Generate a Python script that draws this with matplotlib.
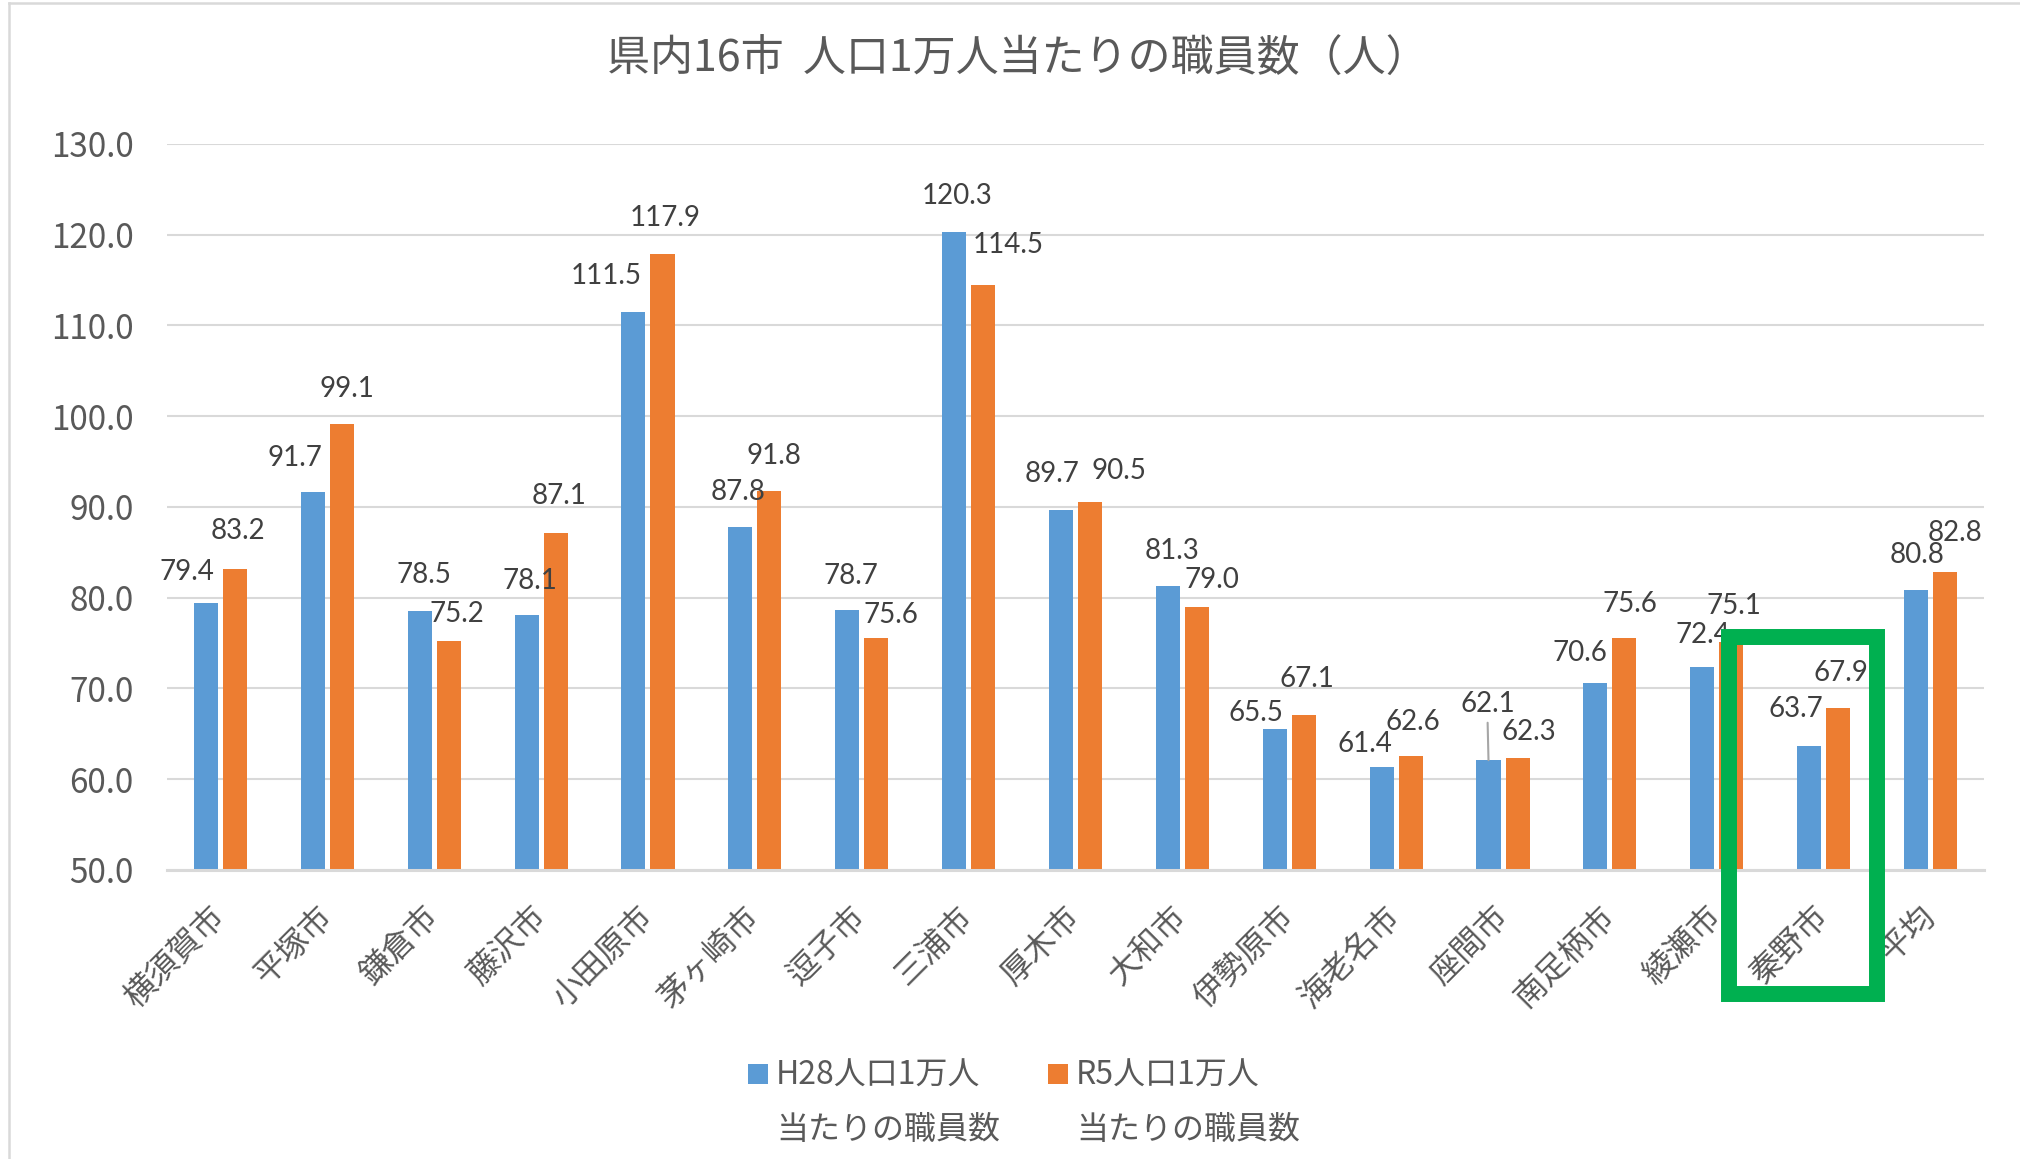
import matplotlib
matplotlib.use("Agg")
import matplotlib.pyplot as plt
import numpy as np
from matplotlib.legend_handler import HandlerPatch
from matplotlib.lines import Line2D
from matplotlib.patches import Rectangle

JP = ["Noto Sans CJK JP", "DejaVu Sans"]
plt.rcParams["font.family"] = JP

cities = ["横須賀市", "平塚市", "鎌倉市", "藤沢市", "小田原市", "茅ヶ崎市", "逗子市", "三浦市",
          "厚木市", "大和市", "伊勢原市", "海老名市", "座間市", "南足柄市", "綾瀬市", "秦野市", "平均"]
h28 = [79.4, 91.7, 78.5, 78.1, 111.5, 87.8, 78.7, 120.3, 89.7, 81.3, 65.5, 61.4, 62.1, 70.6, 72.4, 63.7, 80.8]
r5 = [83.2, 99.1, 75.2, 87.1, 117.9, 91.8, 75.6, 114.5, 90.5, 79.0, 67.1, 62.6, 62.3, 75.6, 75.1, 67.9, 82.8]
series_names = ["H28人口1万人\n当たりの職員数", "R5人口1万人\n当たりの職員数"]
yticks = [50, 60, 70, 80, 90, 100, 110, 120, 130]
title = "県内16市  人口1万人当たりの職員数（人）"
highlight = "秦野市"

# label nudges (pixels) as placed by hand in the original
h28_off = [(-19, 31), (-18, 34), (4, 36), (3, 34), (-27, 36), (-2, 35), (4, 34), (3, 36), (-9, 36),
           (4, 35), (-19, 16), (-17, 23), (-1, 56), (-15, 30), (1, 32), (-13, 37), (1, 35)]
r5_off = [(3, 38), (5, 35), (8, 27), (3, 37), (3, 36), (5, 35), (15, 23), (25, 40), (29, 31),
          (15, 27), (3, 36), (2, 34), (11, 26), (5, 34), (3, 36), (3, 35), (10, 39)]

BLUE = "#5B9BD5"
ORANGE = "#ED7D31"
GRID = "#D9D9D9"
TXT = "#595959"
LBL = "#404040"

W, H = 2020, 1159
fig = plt.figure(figsize=(W / 100, H / 100), dpi=100)
ax = fig.add_axes([167 / W, 1 - 870 / H, (1984 - 167) / W, (870 - 144) / H])

x = np.arange(len(cities))
bw = 0.225
off = 0.136
b1 = ax.bar(x - off, h28, bw, color=BLUE, zorder=3, label=series_names[0])
b2 = ax.bar(x + off, r5, bw, color=ORANGE, zorder=3, label=series_names[1])

ax.set_xlim(-0.5, len(cities) - 0.5)
ax.set_ylim(50, 130)
ax.set_yticks(yticks)
ax.set_yticklabels([f"{v:.1f}" for v in yticks])
ax.yaxis.grid(True, color=GRID, linewidth=1.5, zorder=0)
ax.set_axisbelow(True)
for s in ["top", "right", "left"]:
    ax.spines[s].set_visible(False)
ax.spines["bottom"].set_color(GRID)
ax.spines["bottom"].set_linewidth(2.2)
ax.spines["bottom"].set_zorder(4)
ax.tick_params(axis="y", length=0, pad=24, labelsize=24, labelcolor=TXT)
ax.tick_params(axis="x", length=0, pad=30, labelsize=23, labelcolor=TXT)
ax.set_xticks(x)
ax.set_xticklabels(cities, rotation=45, ha="right", va="center", rotation_mode="anchor")

for bars, vals, offs in [(b1, h28, h28_off), (b2, r5, r5_off)]:
    for i, (rect, v) in enumerate(zip(bars, vals)):
        cx = rect.get_x() + rect.get_width() / 2
        dx, dy = offs[i]
        kw = {}
        if bars is b1 and cities[i] == "座間市":
            kw["arrowprops"] = dict(arrowstyle="-", color="#A6A6A6", lw=1.5,
                                    relpos=(0.5, 0.0), shrinkA=2, shrinkB=0)
        ax.annotate(f"{v:.1f}", (cx, v), xytext=(dx, dy), textcoords="offset pixels",
                    ha="center", va="center", fontsize=20, color=LBL,
                    family=["Lato", "DejaVu Sans"], zorder=5, **kw)

# green highlight box around the target city
hi = cities.index(highlight)
box = Rectangle((hi - 0.89, 36.3), 1.39, 39.4, fill=False, edgecolor="#00B050",
                linewidth=11.5, zorder=6, clip_on=False)
ax.add_patch(box)

fig.text(0.504, 1 - 60 / H, title, ha="center", va="center", fontsize=31, color=TXT)


def top_square(legend, orig_handle, xdescent, ydescent, width, height, fontsize):
    # small square lined up with the first line of a two-line label
    s = 0.62 * fontsize
    return Rectangle((-xdescent + width - s, -ydescent + height - s + 0.35 * fontsize), s, s)


p1, p2 = b1.patches[0], b2.patches[0]
leg = fig.legend(handles=[p1, p2], labels=series_names, loc="upper center",
                 bbox_to_anchor=(0.507, 1 - 1031 / H), ncol=2, frameon=False,
                 fontsize=23, handlelength=0.62, handleheight=2.6, handletextpad=0.25,
                 columnspacing=1.5, labelcolor=TXT,
                 handler_map={p1: HandlerPatch(patch_func=top_square),
                              p2: HandlerPatch(patch_func=top_square)})
for t in leg.get_texts():
    t.set_linespacing(1.9)

# chart area border (left and top edges visible)
fig.add_artist(Line2D([9 / W, 9 / W], [0, 1 - 3 / H], color=GRID, lw=1.8))
fig.add_artist(Line2D([9 / W, 1], [1 - 3 / H, 1 - 3 / H], color=GRID, lw=1.8))

fig.savefig("out.png", dpi=100)
